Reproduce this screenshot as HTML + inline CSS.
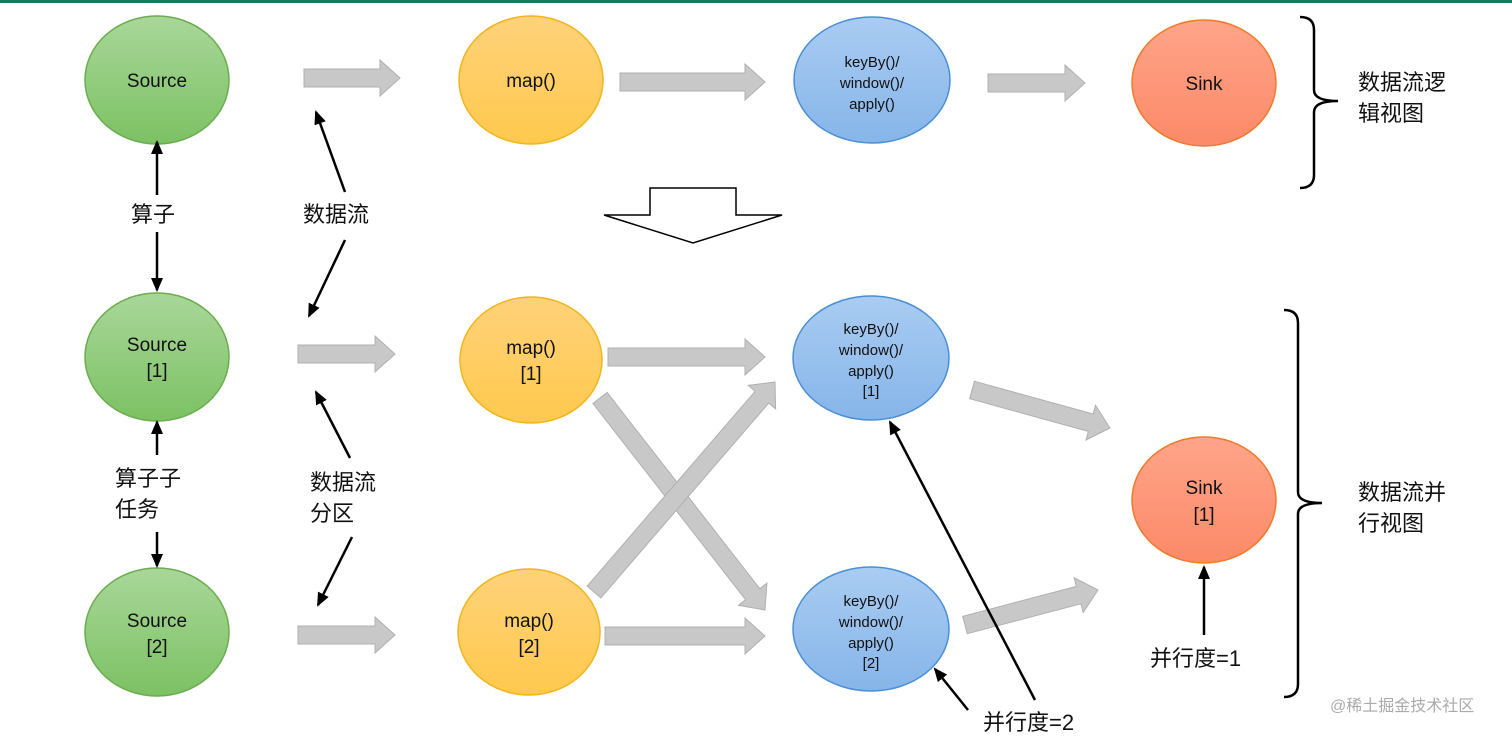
<!DOCTYPE html>
<html><head><meta charset="utf-8"><style>
html,body{margin:0;padding:0;background:#fff;width:1512px;height:737px;overflow:hidden}
svg{display:block}
text{font-family:"Liberation Sans","Noto Sans CJK SC",sans-serif}
</style></head><body>
<svg width="1512" height="737" viewBox="0 0 1512 737">
<defs>
<linearGradient id="g" x1="0" y1="0" x2="0" y2="1"><stop offset="0" stop-color="#a9d79a"/><stop offset="1" stop-color="#7cc163"/></linearGradient>
<linearGradient id="y" x1="0" y1="0" x2="0" y2="1"><stop offset="0" stop-color="#ffd27a"/><stop offset="1" stop-color="#ffc94d"/></linearGradient>
<linearGradient id="b" x1="0" y1="0" x2="0" y2="1"><stop offset="0" stop-color="#a9ccf2"/><stop offset="1" stop-color="#86b5e9"/></linearGradient>
<linearGradient id="r" x1="0" y1="0" x2="0" y2="1"><stop offset="0" stop-color="#ffa489"/><stop offset="1" stop-color="#fb8a68"/></linearGradient>
<marker id="m" markerWidth="14" markerHeight="12" refX="12" refY="6" orient="auto" markerUnits="userSpaceOnUse"><path d="M0,0 L14,6 L0,12 z" fill="#000"/></marker>
</defs>
<rect x="0" y="0" width="1512" height="3" fill="#1b7a5f"/>

<g stroke-width="1.5">
<ellipse cx="157" cy="80" rx="72" ry="64" fill="url(#g)" stroke="#6aae4f"/>
<ellipse cx="531" cy="80" rx="72" ry="64" fill="url(#y)" stroke="#f2b51e"/>
<ellipse cx="872" cy="80" rx="78" ry="63" fill="url(#b)" stroke="#4a8fd6"/>
<ellipse cx="1204" cy="83" rx="72" ry="63" fill="url(#r)" stroke="#f07a2a"/>
<ellipse cx="157" cy="357" rx="72" ry="64" fill="url(#g)" stroke="#6aae4f"/>
<ellipse cx="531" cy="360" rx="71" ry="63" fill="url(#y)" stroke="#f2b51e"/>
<ellipse cx="871" cy="358" rx="78" ry="62" fill="url(#b)" stroke="#4a8fd6"/>
<ellipse cx="1204" cy="500" rx="72" ry="63" fill="url(#r)" stroke="#f07a2a"/>
<ellipse cx="157" cy="632" rx="72" ry="64" fill="url(#g)" stroke="#6aae4f"/>
<ellipse cx="529" cy="632" rx="71" ry="63" fill="url(#y)" stroke="#f2b51e"/>
<ellipse cx="871" cy="629" rx="78" ry="62" fill="url(#b)" stroke="#4a8fd6"/>
</g>

<g font-size="19" text-anchor="middle" fill="#111">
<text x="157" y="87">Source</text>
<text x="531" y="87">map()</text>
<text x="1204" y="90">Sink</text>
<text x="157" y="351">Source</text><text x="157" y="377">[1]</text>
<text x="531" y="354">map()</text><text x="531" y="380">[1]</text>
<text x="1204" y="494">Sink</text><text x="1204" y="521">[1]</text>
<text x="157" y="627">Source</text><text x="157" y="653">[2]</text>
<text x="529" y="627">map()</text><text x="529" y="653">[2]</text>
</g>
<g font-size="15" text-anchor="middle" fill="#111">
<text x="872" y="67">keyBy()/</text><text x="872" y="88">window()/</text><text x="872" y="109">apply()</text>
<text x="871" y="334">keyBy()/</text><text x="871" y="355">window()/</text><text x="871" y="376">apply()</text><text x="871" y="396">[1]</text>
<text x="871" y="606">keyBy()/</text><text x="871" y="627">window()/</text><text x="871" y="648">apply()</text><text x="871" y="668">[2]</text>
</g>

<g fill="#c8c8c8" stroke="#b0b0b0" stroke-width="1" id="arrows"></g>

<polygon points="650,188 736,188 736,215 782,215 693,243 604,215 650,215" fill="#fff" stroke="#000" stroke-width="1.5"/>

<g stroke="#000" stroke-width="2.5" marker-end="url(#m)">
<line x1="157" y1="195" x2="157" y2="142"/>
<line x1="157" y1="232" x2="157" y2="290"/>
<line x1="345" y1="192" x2="316" y2="112"/>
<line x1="345" y1="240" x2="309" y2="316"/>
<line x1="157" y1="455" x2="157" y2="422"/>
<line x1="157" y1="532" x2="157" y2="566"/>
<line x1="350" y1="458" x2="316" y2="392"/>
<line x1="352" y1="537" x2="318" y2="605"/>
<line x1="1035" y1="700" x2="890" y2="422"/>
<line x1="968" y1="710" x2="935" y2="669"/>
<line x1="1204" y1="635" x2="1204" y2="567"/>
</g>

<g font-size="22" fill="#111">
<text x="131" y="222">算子</text>
<text x="303" y="222">数据流</text>
<text x="115" y="486">算子子</text>
<text x="115" y="517">任务</text>
<text x="310" y="490">数据流</text>
<text x="310" y="521">分区</text>
<text x="983" y="730">并行度=2</text>
<text x="1150" y="666">并行度=1</text>
<text x="1358" y="90">数据流逻</text>
<text x="1358" y="121">辑视图</text>
<text x="1358" y="500">数据流并</text>
<text x="1358" y="531">行视图</text>
</g>
<text x="1330" y="711" font-size="16" fill="#aaa">@稀土掘金技术社区</text>

<g fill="none" stroke="#000" stroke-width="2.5">
<path d="M1300,17 Q1314,17 1314,30 L1314,90 Q1314,101 1338,101 Q1314,101 1314,112 L1314,175 Q1314,188 1300,188"/>
<path d="M1284,310 Q1298,310 1298,323 L1298,492 Q1298,503 1322,503 Q1298,503 1298,514 L1298,684 Q1298,697 1284,697"/>
</g>
</svg>
<script>
(function(){
var A=[[304,78,400,78],[620,82,765,82],[988,83,1085,83],[298,354,395,354],[608,357,765,357],[972,390,1110,428],[298,635,395,635],[605,636,765,636],[965,625,1098,590],[600,398,765,610],[594,592,775,382]];
var g=document.getElementById('arrows'),ns='http://www.w3.org/2000/svg';
A.forEach(function(a){var dx=a[2]-a[0],dy=a[3]-a[1],L=Math.hypot(dx,dy),ux=dx/L,uy=dy/L,px=-uy,py=ux,w=9,hw=18,hl=20;
var bx=a[2]-ux*hl,by=a[3]-uy*hl;
var p=[[a[0]+px*w,a[1]+py*w],[bx+px*w,by+py*w],[bx+px*hw,by+py*hw],[a[2],a[3]],[bx-px*hw,by-py*hw],[bx-px*w,by-py*w],[a[0]-px*w,a[1]-py*w]];
var e=document.createElementNS(ns,'polygon');e.setAttribute('points',p.map(function(q){return q[0].toFixed(1)+','+q[1].toFixed(1)}).join(' '));g.appendChild(e);});
})();
</script>
</body></html>
